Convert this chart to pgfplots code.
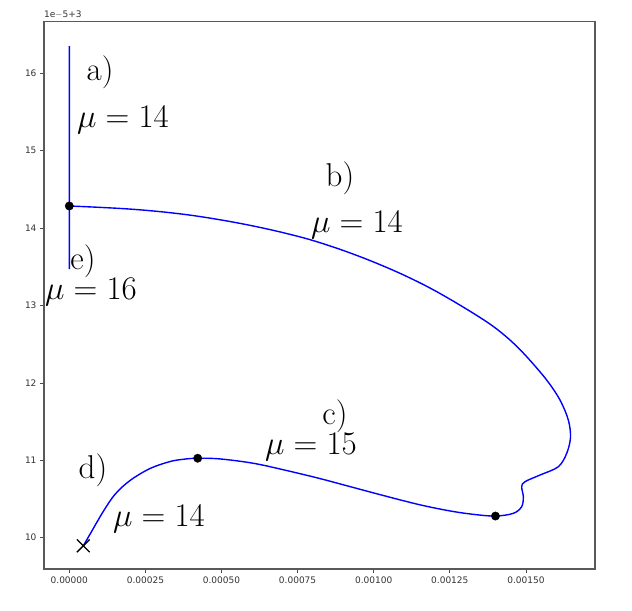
\RequirePackage{fix-cm}
\documentclass[border=0pt]{standalone}
\usepackage{pgfplots}
\pgfplotsset{compat=1.18}
\usepackage{fontspec}
\newfontfamily\tickfont{DejaVu Sans}

% curve data: x in units of 1e-4, y in units of 1e-5 (offset 3)
\pgfplotstableread{
x y
0.000 14.286
1.009 14.268
1.994 14.246
2.980 14.213
3.965 14.168
4.951 14.108
5.936 14.036
6.922 13.951
7.907 13.851
8.893 13.726
9.878 13.581
10.864 13.416
11.850 13.226
12.835 13.005
13.821 12.760
14.478 12.554
15.026 12.339
15.683 12.037
16.120 11.779
16.393 11.521
16.465 11.297
16.340 11.090
16.064 10.917
15.463 10.810
14.970 10.724
14.862 10.659
14.915 10.530
14.862 10.401
14.586 10.315
14.000 10.280
13.272 10.302
12.507 10.346
11.521 10.425
10.427 10.534
9.330 10.649
8.236 10.764
7.142 10.868
6.045 10.962
4.951 11.018
4.218 11.027
3.760 11.014
3.308 10.984
2.651 10.894
1.994 10.739
1.501 10.560
1.117 10.340
0.680 10.045
0.460 9.895
}\branch

\begin{document}
\begin{tikzpicture}
\begin{axis}[
    name=ax, at={(0,0)}, anchor=south west,
    scale only axis, width=551pt, height=547.3pt,
    xmin=-0.831, xmax=17.27,
    ymin=9.596, ymax=16.667,
    xtick={0,2.5,5,7.5,10,12.5,15},
    xticklabels={0.00000,0.00025,0.00050,0.00075,0.00100,0.00125,0.00150},
    ytick={10,11,12,13,14,15,16},
    yticklabels={10,11,12,13,14,15,16},
    scaled x ticks=false, scaled y ticks=false,
    xtick pos=bottom, ytick pos=left,
    tick align=outside, major tick length=4pt,
    tick style={black!70, line width=0.8pt},
    axis line style={black!65, line width=1.2pt},
    tick label style={font=\tickfont\fontsize{9}{10}\selectfont, text=black!80},
    clip=false,
]

% branches a / e : vertical segment
\addplot[color=blue, mark=none, line width=1.5pt] coordinates {(0,16.35) (0.001,14.9) (0,13.47)};

% branches b, c, d
\addplot[color=blue, mark=none, line width=1.4pt, smooth, tension=0.55] table[x=x, y=y] {\branch};

% special points
\addplot[only marks, mark=*, mark size=4.2pt, black] coordinates {
    (0,14.286) (4.218,11.027) (14.0,10.280)
};
\addplot[only marks, mark=x, mark size=9pt, black, line width=1.3pt] coordinates {(0.46,9.895)};

% annotations
\tikzset{lab/.style={font=\fontsize{33}{38}\selectfont, inner sep=0pt}}
\node[lab] at (axis cs:1.01,16.017) {a)};
\node[lab] at (axis cs:1.764,15.397) {$\mu = 14$};
\node[lab] at (axis cs:8.893,14.647) {b)};
\node[lab] at (axis cs:9.451,14.040) {$\mu = 14$};
\node[lab] at (axis cs:0.450,13.575) {e)};
\node[lab] at (axis cs:0.713,13.174) {$\mu = 16$};
\node[lab] at (axis cs:8.729,11.572) {c)};
\node[lab] at (axis cs:7.940,11.172) {$\mu = 15$};
\node[lab] at (axis cs:0.779,10.875) {d)};
\node[lab] at (axis cs:2.947,10.242) {$\mu = 14$};

% offset text
\node[anchor=south west, inner sep=0pt, font=\tickfont\fontsize{9}{10}\selectfont, text=black!80]
    at ([yshift=3pt]rel axis cs:0,1) {1e$-$5+3};
\end{axis}
\path (ax.south west) ++(-44pt,-42pt) rectangle ([xshift=37pt,yshift=21.7pt]ax.north east);
\end{tikzpicture}
\end{document}
